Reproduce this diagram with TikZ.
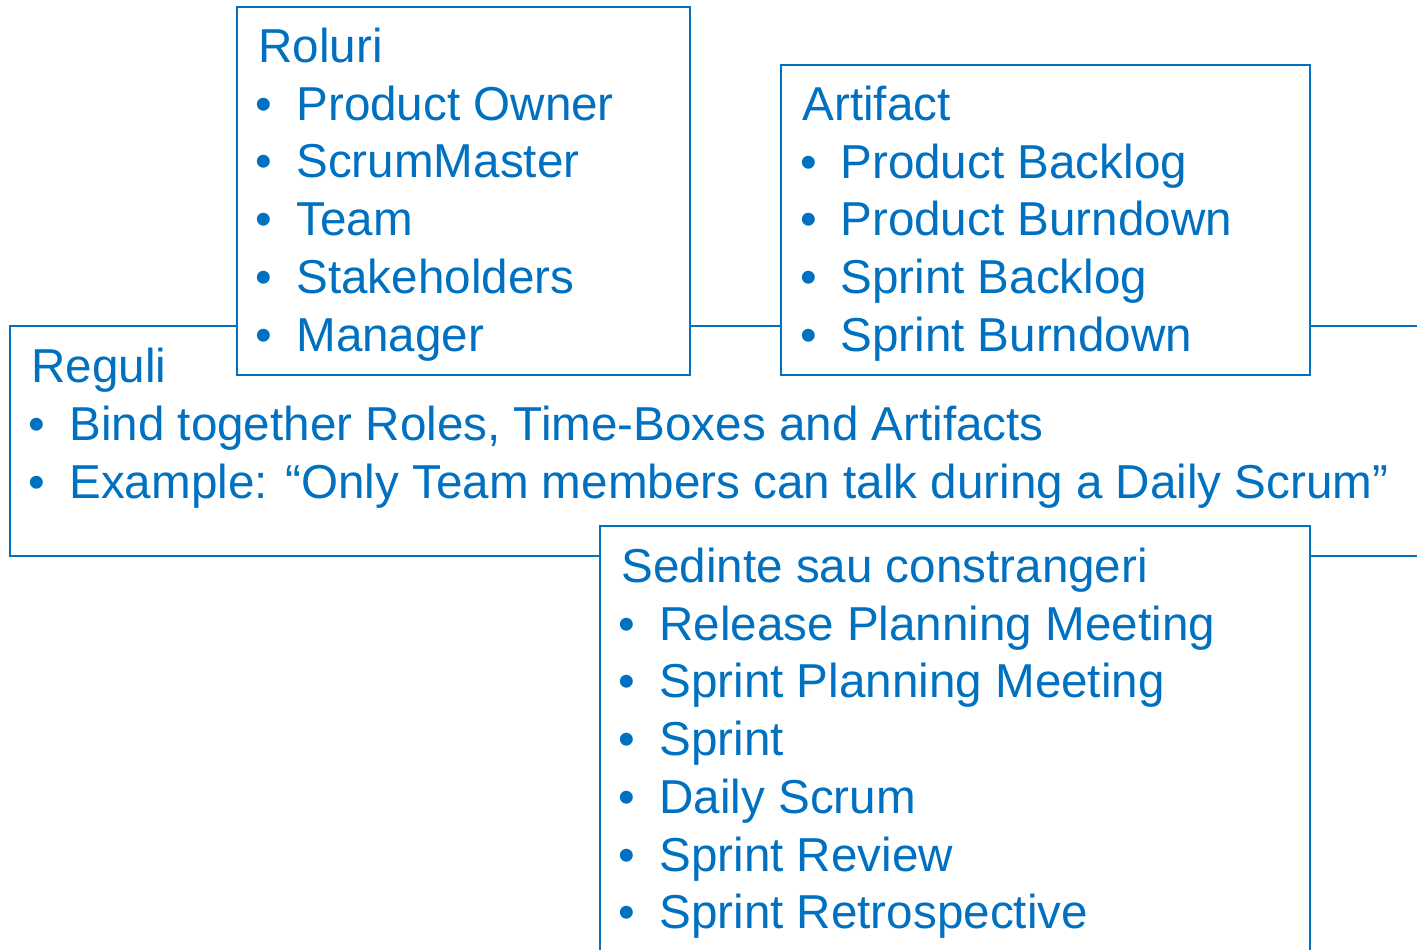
\documentclass[tikz,border=0pt]{standalone}
\usepackage{fontspec}
\setmainfont{Liberation Sans}
\definecolor{scrumblue}{HTML}{0070C0}
\tikzset{
  panel/.style={draw=scrumblue, line width=1.1pt, fill=white},
  txt/.style={anchor=base west, inner sep=0pt, text=scrumblue,
    font=\fontsize{23.8}{28}\selectfont},
  dot/.style={anchor=base, inner sep=0pt, text=scrumblue,
    font=\fontsize{23.8}{28}\selectfont},
}
\begin{document}
\begin{tikzpicture}[x=0.5pt, y=-0.5pt]
  \useasboundingbox (0,0) rectangle (1417,949);
  \clip (0,0) rectangle (1417,949);

  % Reguli (lies underneath the other panels)
  \draw[panel] (10,326) rectangle (1440,556);
  \node[txt] (reg) at (31,382.5) {Reguli};
  \node[dot] (regb1) at (37,440.5) {•};
  \node[txt] (reg1) at (69,440.5) {Bind together Roles, Time-Boxes and Artifacts};
  \node[dot] (regb2) at (37,498) {•};
  \node[txt] (reg2) at (69,498) {Example: “Only Team members can talk during a Daily Scrum”};

  % Roluri
  \draw[panel] (237,7) rectangle (690,375);
  \node[txt] (rol) at (258,62.5) {Roluri};
  \foreach \t [count=\i] in {Product Owner, ScrumMaster, Team, Stakeholders, Manager} {
    \node[dot] (rolb\i) at (264,62.5+57.7*\i) {•};
    \node[txt] (rol\i) at (296,62.5+57.7*\i) {\t};
  }

  % Artifact
  \draw[panel] (781,65) rectangle (1310,375);
  \node[txt] (art) at (802,120.5) {Artifact};
  \foreach \t [count=\i] in {Product Backlog, Product Burndown, Sprint Backlog, Sprint Burndown} {
    \node[dot] (artb\i) at (809,120.5+57.7*\i) {•};
    \node[txt] (art\i) at (840,120.5+57.7*\i) {\t};
  }

  % Sedinte sau constrangeri
  \draw[panel] (600,526) rectangle (1310,980);
  \node[txt] (sed) at (621,582.5) {Sedinte sau constrangeri};
  \foreach \t [count=\i] in {Release Planning Meeting, Sprint Planning Meeting, Sprint, Daily Scrum, Sprint Review, Sprint Retrospective} {
    \node[dot] (sedb\i) at (627,582.5+57.7*\i) {•};
    \node[txt] (sed\i) at (659,582.5+57.7*\i) {\t};
  }
\end{tikzpicture}
\end{document}
